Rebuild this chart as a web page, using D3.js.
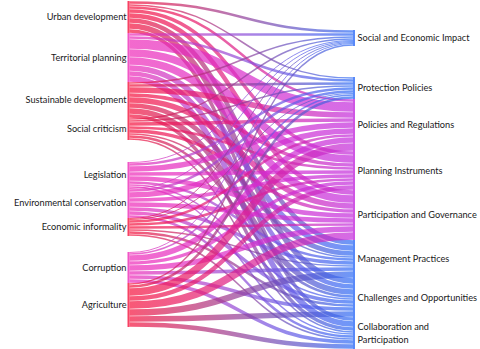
<!DOCTYPE html>
<html><head><meta charset="utf-8">
<script src="https://cdn.jsdelivr.net/npm/d3@7"></script>
<style>
body{margin:0;background:#fff}
svg{display:block}
text{font-family:Lato,"DejaVu Sans",sans-serif;font-size:9.2px;fill:#1a1a1a}
</style></head><body>
<svg id="c" width="480" height="349"></svg>
<script>
// ---- data ----
const sources = ["Urban development","Territorial planning","Sustainable development","Social criticism","Legislation","Environmental conservation","Economic informality","Corruption","Agriculture"];
const targets = ["Social and Economic Impact","Protection Policies","Policies and Regulations","Planning Instruments","Participation and Governance","Management Practices","Challenges and Opportunities","Collaboration and Participation"];
// flow values: rows = sources, columns = targets
const flowUrban        = [3,2,3,4,5,5,6,4];
const flowTerritorial  = [3,3,10,8,8,6,5,6];
const flowSustainable  = [2,3,6,4,6,5,6,4];
const flowSocial       = [2,2,4,3,4,2,3,2];
const flowLegislation  = [1,3,6,4,5,3,2,2];
const flowEnvironment  = [1,3,6,4,5,4,4,3];
const flowInformality  = [1,1,3,3,3,2,3,2];
const flowCorruption   = [1,2,6,4,6,4,4,4];
const flowAgriculture  = [2,3,8,5,8,7,6,5];
const flows = [flowUrban,flowTerritorial,flowSustainable,flowSocial,flowLegislation,flowEnvironment,flowInformality,flowCorruption,flowAgriculture];

// ---- style / layout ----
const RED="#f5123c", PINK="#ee2ab8", BLUE="#2f6cf6", VIOLET="#c32cdc";
const sourceColors=[RED,PINK,RED,RED,PINK,PINK,RED,PINK,RED];
const targetColors=[BLUE,BLUE,VIOLET,VIOLET,VIOLET,BLUE,BLUE,BLUE];
const leftGaps=[0,0,0,0,22,0,0,16,0];
const rightGaps=[0,31,0,0,0,0,0,0];
const xL=127.5, xR=353, nodeW=2, leftTop=1, rightTop=30;

const svg=d3.select("#c");
const srcTot=flows.map(r=>d3.sum(r));
const tgtTot=targets.map((t,j)=>d3.sum(flows,r=>r[j]));
const total=d3.sum(srcTot);
const h=d3.scaleLinear().domain([0,total]).range([0,288]);

let y=leftTop;
const L=sources.map((s,i)=>{y+=leftGaps[i];const n={name:s,y0:y,y1:y+h(srcTot[i]),color:sourceColors[i],off:0};y=n.y1;return n;});
y=rightTop;
const R=targets.map((t,j)=>{y+=rightGaps[j];const n={name:t,y0:y,y1:y+h(tgtTot[j]),color:targetColors[j],off:0};y=n.y1;return n;});

const links=[];
flows.forEach((r,i)=>r.forEach((v,j)=>{if(v>0)links.push({i,j,v,w:h(v)});}));
L.forEach((n,i)=>{links.filter(l=>l.i===i).sort((a,b)=>a.j-b.j).forEach(l=>{l.sy=n.y0+n.off+l.w/2;n.off+=l.w;});});
R.forEach((n,j)=>{links.filter(l=>l.j===j).sort((a,b)=>a.i-b.i).forEach(l=>{l.ty=n.y0+n.off+l.w/2;n.off+=l.w;});});

const defs=svg.append("defs");
const x0=xL+nodeW, x1=xR, xm=(x0+x1)/2;
links.forEach((l,k)=>{
  const g=defs.append("linearGradient").attr("id","g"+k).attr("gradientUnits","userSpaceOnUse")
    .attr("x1",x0).attr("x2",x1).attr("y1",0).attr("y2",0);
  g.append("stop").attr("offset","0%").attr("stop-color",L[l.i].color);
  g.append("stop").attr("offset","100%").attr("stop-color",R[l.j].color);
});
svg.append("g").selectAll("path").data(links).join("path")
  .attr("d",l=>`M${x0},${l.sy}C${xm},${l.sy} ${xm},${l.ty} ${x1},${l.ty}`)
  .attr("fill","none")
  .attr("stroke",(l,k)=>`url(#g${k})`)
  .attr("stroke-width",l=>Math.max(1,l.w-0.5))
  .attr("stroke-opacity",0.7);

svg.append("g").selectAll("rect").data(L).join("rect")
  .attr("x",xL).attr("y",d=>d.y0).attr("width",nodeW).attr("height",d=>d.y1-d.y0)
  .attr("fill",d=>d.color).attr("opacity",0.8);
svg.append("g").selectAll("rect").data(R).join("rect")
  .attr("x",xR).attr("y",d=>d.y0).attr("width",nodeW).attr("height",d=>d.y1-d.y0)
  .attr("fill",d=>d.color).attr("opacity",0.8);

svg.append("g").selectAll("text").data(L).join("text")
  .attr("x",xL-1).attr("y",d=>(d.y0+d.y1)/2).attr("dy","0.35em").attr("text-anchor","end").text(d=>d.name);
const rt=svg.append("g").selectAll("text").data(R).join("text")
  .attr("x",xR+nodeW+2.5).attr("y",d=>(d.y0+d.y1)/2).attr("dy","0.35em");
rt.each(function(d){
  const t=d3.select(this);
  if(d.name==="Collaboration and Participation"){
    t.attr("dy",null);
    t.append("tspan").attr("x",xR+nodeW+2.5).attr("dy","-0.35em").text("Collaboration and");
    t.append("tspan").attr("x",xR+nodeW+2.5).attr("dy","1.45em").text("Participation");
  } else t.text(d.name);
});
</script></body></html>
